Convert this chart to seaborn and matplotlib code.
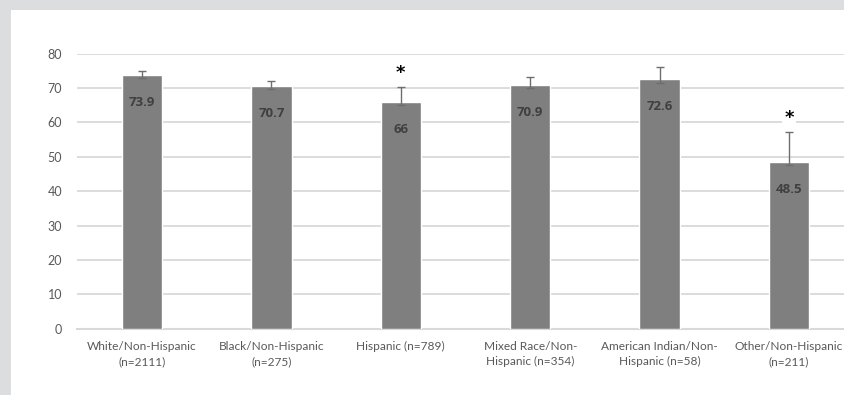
import matplotlib
matplotlib.use("Agg")
import matplotlib.pyplot as plt
import seaborn as sns
import pandas as pd
from matplotlib.patches import Rectangle

# Data
categories = [
    "White/Non-Hispanic\n(n=2111)",
    "Black/Non-Hispanic\n(n=275)",
    "Hispanic (n=789)",
    "Mixed Race/Non-\nHispanic (n=354)",
    "American Indian/Non-\nHispanic (n=58)",
    "Other/Non-Hispanic\n(n=211)",
]
values = [73.9, 70.7, 66.0, 70.9, 72.6, 48.5]
err_lower = [1.0, 1.0, 1.0, 0.9, 1.0, 0.8]
err_upper = [1.1, 1.5, 4.2, 2.3, 3.4, 8.7]
significant = [False, False, True, False, False, True]
y_ticks = [0, 10, 20, 30, 40, 50, 60, 70, 80]

sns.set_theme(style="white")
plt.rcParams["font.family"] = ["Lato", "DejaVu Sans"]

W, H = 844, 395
fig = plt.figure(figsize=(W / 100, H / 100), dpi=100)
fig.patch.set_facecolor("#dcdddf")
# white panel behind the chart
fig.patches.append(Rectangle((11 / W, 0), 1 - 11 / W, 1 - 10 / H,
                             transform=fig.transFigure, facecolor="white",
                             edgecolor="none", zorder=-10))

left, right = 77.3 / W, 853.7 / W
bottom, top = 1 - 328.7 / H, 1 - 53.7 / H
ax = fig.add_axes([left, bottom, right - left, top - bottom])
ax.set_zorder(1)
ax.set_facecolor("none")

df = pd.DataFrame({"group": categories, "pct": values})
sns.barplot(data=df, x="group", y="pct", color="#7f7f7f", saturation=1,
            width=0.313, ax=ax, zorder=3)

ax.errorbar(range(len(values)), values, yerr=[err_lower, err_upper],
            fmt="none", ecolor="#6e6e6e", elinewidth=1.0, capsize=3.2,
            capthick=1.0, zorder=4)

for i, v in enumerate(values):
    lbl = f"{v:g}"
    ax.annotate(lbl, (i, v), xytext=(0, -20), textcoords="offset points",
                ha="center", va="center", fontsize=9.5, fontweight="bold",
                family=["Open Sans", "DejaVu Sans"],
                color="#3f3f3f", zorder=5)
    if significant[i]:
        ax.annotate("*", (i, v + err_upper[i]), xytext=(0, 10),
                    textcoords="offset points", ha="center", va="center",
                    fontsize=13, fontweight="bold", family="DejaVu Sans",
                    color="black", zorder=6,
                    bbox=dict(boxstyle="square,pad=0.12", facecolor="white",
                              edgecolor="none"))

ax.set_xlim(-0.5, len(values) - 0.5)
ax.set_ylim(0, 80)
ax.set_yticks(y_ticks)
ax.yaxis.grid(True, color="#d9d9d9", linewidth=1.3, zorder=0)
ax.set_axisbelow(True)
for s in ["top", "right", "left"]:
    ax.spines[s].set_visible(False)
ax.spines["bottom"].set_color("#d9d9d9")
ax.spines["bottom"].set_linewidth(1.5)
ax.set_xlabel("")
ax.set_ylabel("")
ax.tick_params(axis="y", length=0, pad=11, labelsize=9, labelcolor="#595959")
ax.tick_params(axis="x", length=0, pad=9, labelsize=8.6, labelcolor="#595959")
for t in ax.get_xticklabels():
    t.set_linespacing(1.4)

fig.savefig("out.png", dpi=100, facecolor=fig.get_facecolor())
